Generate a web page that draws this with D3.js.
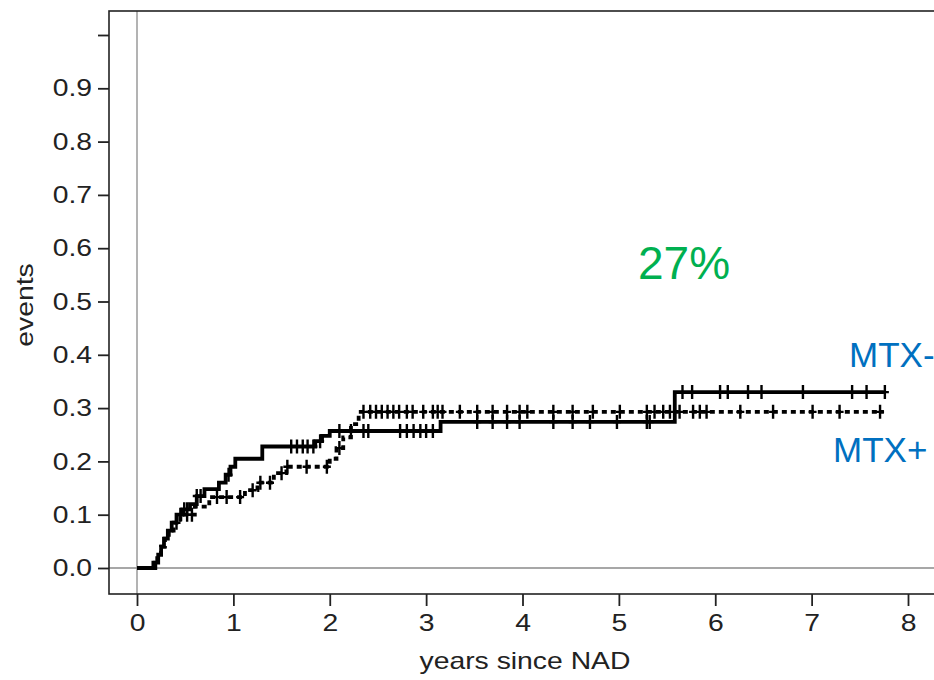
<!DOCTYPE html>
<html>
<head>
<meta charset="utf-8">
<script src="https://cdn.jsdelivr.net/npm/d3@7"></script>
<style>
  body { margin: 0; background: #fff; }
  svg { display: block; font-family: "Liberation Sans", Arial, sans-serif; }
</style>
</head>
<body>
<script>

// cumulative incidence, MTX- (solid)
var minusTime = [0, 0.19, 0.22, 0.25, 0.28, 0.32, 0.36, 0.41, 0.47, 0.55, 0.62, 0.70, 0.85, 0.92, 0.97, 1.02, 1.30, 1.85, 1.92, 2.00, 3.15, 5.58, 7.75];
var minusRisk = [0, 0.01, 0.025, 0.04, 0.055, 0.07, 0.085, 0.10, 0.11, 0.12, 0.135, 0.148, 0.16, 0.175, 0.19, 0.205, 0.228, 0.238, 0.248, 0.257, 0.274, 0.330, 0.330];
var minusCensor = [0.45, 0.49, 0.52, 0.62, 0.66, 0.95, 1.60, 1.66, 1.72, 1.77, 1.83, 1.90, 2.10, 2.22, 2.35, 2.40, 2.73, 2.80, 2.87, 2.94, 3.00, 3.07,
                   3.53, 3.69, 3.84, 3.97, 4.32, 4.52, 4.70, 4.98, 5.29, 5.32, 5.66, 5.76, 6.05, 6.13, 6.34, 6.48, 6.91, 7.42, 7.57, 7.76];

// cumulative incidence, MTX+ (dashed)
var plusTime = [0, 0.17, 0.21, 0.25, 0.29, 0.33, 0.38, 0.45, 0.60, 0.75, 1.12, 1.25, 1.42, 1.55, 2.00, 2.07, 2.14, 2.22, 2.30, 7.75];
var plusRisk = [0, 0.01, 0.025, 0.04, 0.055, 0.07, 0.085, 0.10, 0.115, 0.133, 0.146, 0.16, 0.178, 0.19, 0.205, 0.225, 0.245, 0.27, 0.293, 0.293];
var plusCensor = [0.41, 0.52, 0.57, 0.83, 0.93, 1.07, 1.20, 1.28, 1.38, 1.50, 1.56, 1.76, 1.97, 2.10, 2.35, 2.42, 2.48, 2.54, 2.60, 2.66, 2.72, 2.80, 2.86,
                  2.97, 3.07, 3.12, 3.17, 3.35, 3.53, 3.69, 3.84, 3.97, 4.05, 4.32, 4.52, 4.73, 5.01, 5.29, 5.37, 5.46, 5.53, 5.63, 5.77, 5.84, 5.91, 6.26, 6.60, 7.01, 7.29, 7.71];

var xTicks = [0, 1, 2, 3, 4, 5, 6, 7, 8];
var yTicks = [0, 0.1, 0.2, 0.3, 0.4, 0.5, 0.6, 0.7, 0.8, 0.9, 1.0];
var yTickLabels = ["0.0", "0.1", "0.2", "0.3", "0.4", "0.5", "0.6", "0.7", "0.8", "0.9", ""];

var width = 934, height = 680;
var frame = {left: 109, top: 11, right: 960, bottom: 594};
var stretch = 1.18;   // the plot's own font is wider than Liberation Sans

var x = d3.scaleLinear().domain([0, 8]).range([137, 908]);
var y = d3.scaleLinear().domain([0, 1]).range([568, 35]);

var svg = d3.select("body").append("svg")
  .attr("width", width)
  .attr("height", height);

// reference lines at 0
svg.append("line")
  .attr("x1", x(0)).attr("x2", x(0))
  .attr("y1", frame.top).attr("y2", frame.bottom)
  .attr("stroke", "#8a8a8a").attr("stroke-width", 1.3);
svg.append("line")
  .attr("x1", frame.left).attr("x2", frame.right)
  .attr("y1", y(0)).attr("y2", y(0))
  .attr("stroke", "#8a8a8a").attr("stroke-width", 1.3);

// frame
svg.append("rect")
  .attr("x", frame.left).attr("y", frame.top)
  .attr("width", frame.right - frame.left).attr("height", frame.bottom - frame.top)
  .attr("fill", "none").attr("stroke", "#222").attr("stroke-width", 1.6);

// axes
var yAxis = svg.append("g")
  .attr("transform", "translate(" + frame.left + ",0)")
  .call(d3.axisLeft(y).tickValues(yTicks).tickSizeOuter(0).tickSize(11).tickPadding(6)
    .tickFormat(function(d, i){ return yTickLabels[i]; }));
var xAxis = svg.append("g")
  .attr("transform", "translate(0," + frame.bottom + ")")
  .call(d3.axisBottom(x).tickValues(xTicks).tickSizeOuter(0).tickSize(12).tickPadding(8)
    .tickFormat(d3.format("d")));

[yAxis, xAxis].forEach(function(g){
  g.select(".domain").remove();
  g.selectAll(".tick line").attr("stroke", "#222").attr("stroke-width", 1.8);
  g.selectAll(".tick text").attr("fill", "#222").style("font-size", "24px")
    .style("font-family", "'Liberation Sans', Arial, sans-serif")
    .classed("wide", true);
});

svg.append("text")
  .attr("class", "wide")
  .attr("transform", "translate(33,305) rotate(-90)")
  .attr("text-anchor", "middle")
  .attr("fill", "#222")
  .style("font-size", "24px")
  .text("events");

svg.append("text")
  .attr("class", "wide")
  .attr("x", 525).attr("y", 669)
  .attr("text-anchor", "middle")
  .attr("fill", "#222")
  .style("font-size", "24px")
  .text("years since NAD");

svg.selectAll("text.wide").each(function(){
  var len = this.getComputedTextLength();
  if (len > 0) {
    d3.select(this).attr("textLength", len * stretch).attr("lengthAdjust", "spacingAndGlyphs");
  }
});

// curves
var line = d3.line()
  .x(function(d){ return x(d[0]); })
  .y(function(d){ return y(d[1]); })
  .curve(d3.curveStepAfter);

function stepValue(times, risks, t){
  var i = d3.bisectRight(times, t) - 1;
  return risks[Math.max(0, i)];
}

function drawGroup(times, risks, censor, dash){
  var pts = times.map(function(t, i){ return [t, risks[i]]; });
  svg.append("path")
    .datum(pts)
    .attr("d", line)
    .attr("fill", "none")
    .attr("stroke", "#000")
    .attr("stroke-width", 3.8)
    .attr("stroke-dasharray", dash);

  svg.append("g").selectAll("path")
    .data(censor)
    .enter().append("path")
    .attr("d", function(t){
      var cx = x(t), cy = y(stepValue(times, risks, t));
      return "M" + (cx - 4) + "," + cy + "H" + (cx + 4) + "M" + cx + "," + (cy - 7) + "V" + (cy + 7);
    })
    .attr("stroke", "#000")
    .attr("stroke-width", 2.4);
}

drawGroup(plusTime, plusRisk, plusCensor, "5,4");
drawGroup(minusTime, minusRisk, minusCensor, null);

// annotations
svg.append("text")
  .attr("x", 638).attr("y", 279)
  .attr("fill", "#00b050")
  .style("font-size", "46px")
  .text("27%");

svg.append("text")
  .attr("x", 849).attr("y", 367)
  .attr("fill", "#0070c0")
  .style("font-size", "35px")
  .text("MTX-");

svg.append("text")
  .attr("x", 833).attr("y", 462)
  .attr("fill", "#0070c0")
  .style("font-size", "35px")
  .text("MTX+");

</script>
</body>
</html>
